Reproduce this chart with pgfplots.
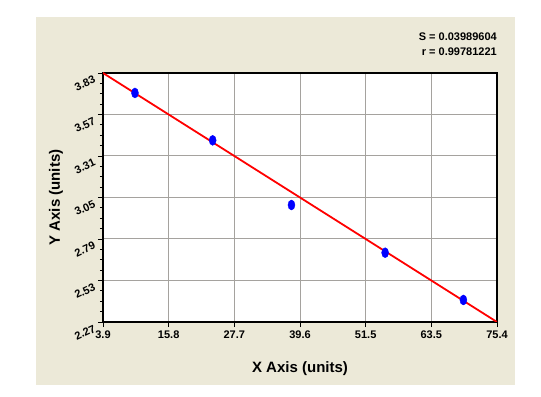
\documentclass[border=0pt]{standalone}
\usepackage{fontspec}
\setmainfont{Liberation Sans}
\usepackage{pgfplots}
\pgfplotsset{compat=1.18}
\definecolor{panel}{RGB}{236,233,216}
\definecolor{gridc}{RGB}{165,162,158}
\begin{document}
\begin{tikzpicture}
\useasboundingbox (0bp,0bp) rectangle (541bp,397bp);
\fill[white] (0bp,0bp) rectangle (541bp,397bp);
\fill[panel] (36bp,12bp) rectangle (515bp,380bp);
\begin{axis}[
  at={(103bp,75bp)}, anchor=south west,
  scale only axis, width=394bp, height=249bp,
  xmin=3.9, xmax=75.4, ymin=2.27, ymax=3.83,
  xtick={3.9,15.8167,27.7333,39.65,51.5667,63.4833,75.4},
  xticklabels={3.9,15.8,27.7,39.6,51.5,63.5,75.4},
  ytick={2.27,2.53,2.79,3.05,3.31,3.57,3.83},
  yticklabels={2.27,2.53,2.79,3.05,3.31,3.57,3.83},
  minor x tick num=3, minor y tick num=3,
  tick align=outside, tick pos=left,
  major tick length=5bp, minor tick length=3bp,
  tick style={black, line width=0.8bp},
  grid=major, major grid style={gridc, line width=1bp},
  axis line style={black, line width=1.2bp},
  axis background/.style={fill=white},
  ticklabel style={font=\bfseries\fontsize{11bp}{13bp}\selectfont},
  yticklabel style={rotate=25, anchor=east, yshift=-4bp, xshift=-2bp},
  xlabel={X Axis (units)}, ylabel={Y Axis (units)},
  every axis x label/.style={at={(axis description cs:0.5,0)}, anchor=center, yshift=-47bp, font=\bfseries\fontsize{15bp}{17bp}\selectfont},
  every axis y label/.style={at={(axis description cs:0,0.5)}, anchor=center, xshift=-47bp, rotate=90, font=\bfseries\fontsize{15bp}{17bp}\selectfont},
]
\addplot[only marks, mark=*, mark size=5bp, mark options={xscale=0.7, draw=blue, fill=blue}]
  coordinates {(9.7,3.705) (23.8,3.408) (38.1,3.003) (55.1,2.704) (69.3,2.408)};
\addplot[red, line width=1.8bp, no marks] coordinates {(3.9,3.83) (75.4,2.27)};
\end{axis}
\node[anchor=east, font=\bfseries\fontsize{11bp}{13bp}\selectfont, inner sep=0pt] at (497bp,360bp) {S = 0.03989604};
\node[anchor=east, font=\bfseries\fontsize{11bp}{13bp}\selectfont, inner sep=0pt] at (497bp,345bp) {r = 0.99781221};
\end{tikzpicture}
\end{document}
